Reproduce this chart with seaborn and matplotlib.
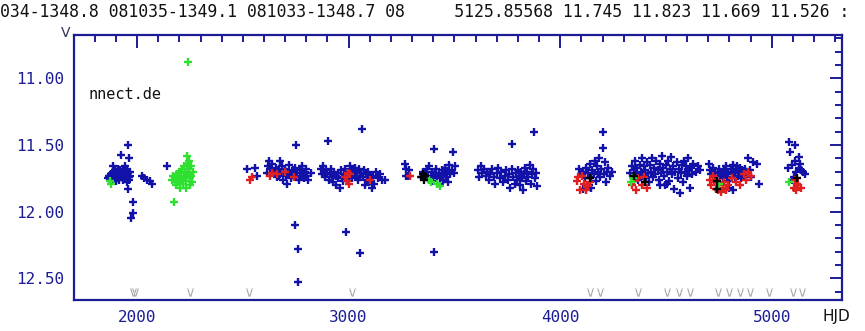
import matplotlib
matplotlib.use("Agg")
import matplotlib.pyplot as plt
import seaborn as sns
import pandas as pd
from matplotlib.ticker import MultipleLocator, FixedFormatter, FixedLocator

# ---------------- data ----------------
blue_hjd = [1862, 1868, 1872, 1878, 1880, 1884, 1886, 1889, 1892, 1895, 1897, 1900, 1902, 1905, 1907,
            1910, 1912, 1914, 1917, 1919, 1921, 1924, 1925, 1928, 1930, 1932, 1934, 1936, 1938, 1940,
            1942, 1944, 1946, 1948, 1950, 1952, 1954, 1957, 1957, 1958, 1960, 1962, 1963, 1965, 1968,
            1972, 1981, 1981, 2025, 2035, 2048, 2060, 2072, 2141,
            2520, 2558, 2568, 2615, 2620, 2625, 2630, 2640, 2645, 2650, 2655, 2660, 2665, 2670, 2675,
            2680, 2685, 2690, 2695, 2700, 2705, 2710, 2715, 2720, 2725, 2730, 2735, 2740, 2745, 2750,
            2752, 2747, 2762, 2762, 2758, 2765, 2770, 2775, 2780, 2785, 2790, 2795, 2800, 2805, 2810, 2820,
            2868, 2872, 2878, 2885, 2890, 2895, 2900, 2903, 2908, 2912, 2918, 2922, 2928, 2932, 2938,
            2942, 2948, 2952, 2958, 2962, 2968, 2972, 2978, 2982, 2988, 2990, 2995, 3000, 3005, 3010,
            3015, 3020, 3025, 3030, 3035, 3040, 3045, 3050, 3055, 3055, 3060, 3064, 3068, 3072, 3078,
            3082, 3088, 3092, 3098, 3105, 3110, 3115, 3120, 3130, 3140, 3150, 3160, 3172,
            3265, 3270, 3285, 3270, 3280,
            3340, 3350, 3360, 3370, 3375, 3380, 3390, 3395, 3400, 3405, 3405, 3410, 3415, 3420, 3425,
            3430, 3435, 3440, 3445, 3450, 3455, 3460, 3465, 3470, 3475, 3480, 3490, 3495, 3500, 3505,
            3610, 3618, 3625, 3632, 3640, 3648, 3655, 3662, 3670, 3678, 3685, 3692, 3700, 3708, 3715,
            3722, 3730, 3738, 3745, 3752, 3760, 3765, 3770, 3774, 3778, 3785, 3790, 3795, 3800, 3805,
            3810, 3815, 3820, 3825, 3830, 3835, 3840, 3845, 3850, 3855, 3860, 3865, 3870, 3878, 3880,
            3885, 3892,
            4090, 4100, 4110, 4115, 4120, 4130, 4135, 4140, 4145, 4150, 4160, 4165, 4170, 4175, 4180,
            4185, 4190, 4195, 4200, 4200, 4205, 4210, 4215, 4220, 4225, 4235, 4245, 4145, 4110,
            4330, 4338, 4345, 4350, 4355, 4360, 4365, 4370, 4375, 4380, 4385, 4390, 4395, 4400, 4405,
            4410, 4415, 4420, 4425, 4430, 4435, 4440, 4445, 4450, 4455, 4460, 4465, 4470, 4475, 4480,
            4485, 4490, 4495, 4500, 4505, 4510, 4515, 4520, 4525, 4530, 4535, 4540, 4545, 4550, 4555,
            4560, 4565, 4570, 4575, 4580, 4585, 4590, 4595, 4600, 4605, 4610, 4615, 4620, 4625, 4630,
            4640, 4650, 4660, 4505, 4470,
            4702, 4708, 4715, 4720, 4725, 4730, 4738, 4745, 4750, 4755, 4760, 4768, 4775, 4780, 4785,
            4790, 4795, 4800, 4805, 4810, 4815, 4820, 4825, 4830, 4835, 4840, 4845, 4850, 4855, 4860,
            4865, 4870, 4875, 4880, 4885, 4890, 4895, 4900, 4910, 4930, 4940, 4800, 4815,
            5083, 5108, 5088, 5112, 5128, 5135, 5075, 5095, 5130, 5140, 5115, 5150, 5155, 5105, 5098]
blue_mag = [11.75, 11.73, 11.76, 11.72, 11.77, 11.70, 11.66, 11.74, 11.71, 11.75, 11.69, 11.73, 11.77, 11.70, 11.72,
            11.74, 11.68, 11.76, 11.71, 11.73, 11.69, 11.575, 11.74, 11.70, 11.72, 11.76, 11.68, 11.71, 11.74, 11.69,
            11.73, 11.66, 11.75, 11.70, 11.72, 11.78, 11.68, 11.50, 11.83, 11.71, 11.74, 11.60, 11.76, 11.70, 11.73,
            12.05, 11.93, 12.01, 11.73, 11.75, 11.76, 11.77, 11.79, 11.66,
            11.68, 11.67, 11.73, 11.71, 11.66, 11.62, 11.68, 11.64, 11.70, 11.72, 11.67, 11.74, 11.69, 11.73, 11.62,
            11.70, 11.66, 11.76, 11.71, 11.68, 11.73, 11.79, 11.70, 11.65, 11.72, 11.75, 11.69, 11.73, 11.67, 11.74,
            11.50, 12.10, 12.28, 12.53, 11.71, 11.76, 11.69, 11.73, 11.66, 11.72, 11.75, 11.70, 11.68, 11.73, 11.76, 11.71,
            11.68, 11.72, 11.66, 11.70, 11.74, 11.69, 11.72, 11.47, 11.76, 11.71, 11.68, 11.74, 11.78, 11.70, 11.73,
            11.80, 11.75, 11.71, 11.82, 11.69, 11.74, 11.77, 11.72, 11.68, 12.15, 11.75, 11.70, 11.73, 11.66, 11.71,
            11.75, 11.69, 11.72, 11.67, 11.74, 11.70, 11.76, 11.68, 12.31, 11.73, 11.71, 11.38, 11.74, 11.69, 11.80,
            11.72, 11.76, 11.70, 11.78, 11.74, 11.82, 11.73, 11.79, 11.70, 11.75, 11.72, 11.76, 11.76,
            11.64, 11.68, 11.69, 11.73, 11.73,
            11.74, 11.70, 11.72, 11.68, 11.75, 11.66, 11.73, 11.70, 11.77, 11.53, 12.30, 11.72, 11.68, 11.75, 11.71,
            11.79, 11.73, 11.69, 11.76, 11.72, 11.67, 11.74, 11.70, 11.78, 11.65, 11.72, 11.69, 11.55, 11.71, 11.66,
            11.69, 11.74, 11.66, 11.71, 11.68, 11.73, 11.70, 11.76, 11.72, 11.68, 11.74, 11.79, 11.71, 11.67, 11.75,
            11.70, 11.78, 11.73, 11.69, 11.76, 11.72, 11.82, 11.68, 11.49, 11.74, 11.79, 11.71, 11.76, 11.69, 11.73,
            11.80, 11.70, 11.75, 11.84, 11.72, 11.67, 11.77, 11.70, 11.74, 11.65, 11.79, 11.72, 11.68, 11.40, 11.75,
            11.71, 11.81,
            11.68, 11.72, 11.70, 11.75, 11.67, 11.71, 11.80, 11.64, 11.74, 11.69, 11.72, 11.62, 11.77, 11.66, 11.70,
            11.60, 11.74, 11.68, 11.40, 11.52, 11.72, 11.63, 11.78, 11.70, 11.67, 11.73, 11.70, 11.82, 11.83,
            11.71, 11.66, 11.74, 11.69, 11.62, 11.72, 11.67, 11.76, 11.65, 11.70, 11.60, 11.73, 11.66, 11.69, 11.75,
            11.63, 11.71, 11.78, 11.65, 11.70, 11.60, 11.74, 11.67, 11.72, 11.62, 11.69, 11.76, 11.64, 11.71, 11.58,
            11.67, 11.73, 11.80, 11.65, 11.70, 11.62, 11.77, 11.68, 11.59, 11.72, 11.66, 11.83, 11.70, 11.63, 11.75,
            11.68, 11.86, 11.71, 11.65, 11.78, 11.62, 11.70, 11.66, 11.73, 11.60, 11.69, 11.82, 11.67, 11.72, 11.64,
            11.70, 11.66, 11.69, 11.79, 11.80,
            11.64, 11.69, 11.72, 11.67, 11.74, 11.70, 11.76, 11.71, 11.68, 11.73, 11.70, 11.75, 11.69, 11.72, 11.66,
            11.74, 11.70, 11.77, 11.68, 11.72, 11.65, 11.71, 11.74, 11.69, 11.66, 11.73, 11.70, 11.67, 11.75, 11.69,
            11.72, 11.70, 11.68, 11.73, 11.71, 11.60, 11.69, 11.74, 11.63, 11.64, 11.79, 11.82, 11.84,
            11.48, 11.50, 11.55, 11.62, 11.59, 11.64, 11.67, 11.65, 11.67, 11.69, 11.70, 11.70, 11.72, 11.74, 11.76]

green_hjd = [1870, 1877,
             2165, 2170, 2175, 2178, 2182, 2186, 2190, 2193, 2196, 2199, 2202, 2205, 2208, 2211, 2214,
             2217, 2220, 2223, 2226, 2229, 2232, 2235, 2237, 2240, 2243, 2245, 2248, 2251, 2254, 2257,
             2260, 2263, 2247, 2230,
             3380, 3390, 3420, 3430, 4335, 4345, 4750, 5080]
green_mag = [11.77, 11.79,
             11.76, 11.73, 11.93, 11.78, 11.74, 11.80, 11.72, 11.76, 11.70, 11.78, 11.74, 11.82, 11.71, 11.76, 11.68,
             11.79, 11.73, 11.66, 11.75, 11.70, 11.77, 11.64, 11.58, 11.72, 10.88, 11.68, 11.75, 11.80, 11.66, 11.73,
             11.78, 11.70, 11.62, 11.82,
             11.76, 11.78, 11.79, 11.81, 11.78, 11.75, 11.79, 11.78]

red_hjd = [2535, 2544, 2630, 2640, 2660, 2700, 2740,
           2985, 2992, 3000, 3005, 2998, 3100, 3290,
           4080, 4085, 4095, 4105, 4112, 4120, 4130, 4140,
           4340, 4350, 4360, 4370, 4385, 4395, 4410,
           4710, 4712, 4720, 4728, 4735, 4740, 4745, 4752, 4760, 4768, 4775, 4785, 4795, 4810, 4830,
           4850, 4870, 4880, 4890, 4900,
           5110, 5118, 5125, 5105, 5115, 5140]
red_mag = [11.76, 11.74, 11.73, 11.71, 11.72, 11.70, 11.74,
           11.74, 11.77, 11.79, 11.72, 11.71, 11.76, 11.73,
           11.77, 11.74, 11.84, 11.73, 11.79, 11.84, 11.81, 11.78,
           11.80, 11.77, 11.84, 11.75, 11.80, 11.74, 11.82,
           11.76, 11.80, 11.73, 11.78, 11.83, 11.76, 11.84, 11.80, 11.85, 11.82, 11.78, 11.84, 11.80, 11.75, 11.78,
           11.80, 11.72, 11.76, 11.70, 11.73,
           11.76, 11.79, 11.80, 11.82, 11.84, 11.82]

black_hjd = [3345, 3350, 3355, 3360, 4140, 4350, 4400, 4740, 4742, 5120]
black_mag = [11.74, 11.72, 11.76, 11.73, 11.75, 11.73, 11.78, 11.77, 11.83, 11.75]

limit_hjd = [1983, 1990, 2250, 2530, 3017, 4142, 4190, 4369, 4506, 4560, 4615,
             4747, 4797, 4848, 4898, 4988, 5102, 5144]
limit_mag = 12.60

header = "034-1348.8 081035-1349.1 081033-1348.7 08     5125.85568 11.745 11.823 11.669 11.526 :"
x_ticks = [2000, 3000, 4000, 5000]
y_ticks = [11.00, 11.50, 12.00, 12.50]
y_labels = ["11.00", "11.50", "12.00", "12.50"]

# ---------------- plot ----------------
sns.set_style("white")
plt.rcParams['font.family'] = ['DejaVu Sans']
navy = "#1c1c96"

fig = plt.figure(figsize=(8.65, 3.31), dpi=100)
ax = fig.add_axes([74/865, 1-300/331, (842-74)/865, (300-35)/331])

def pts(h, m):
    return pd.DataFrame({"hjd": h, "mag": m})

kw = dict(marker="+", s=36, linewidth=1.7, legend=False, ax=ax)
sns.scatterplot(data=pts(blue_hjd, blue_mag), x="hjd", y="mag", color="#1212a8", **kw)
sns.scatterplot(data=pts(red_hjd, red_mag), x="hjd", y="mag", color="#e02020", **kw)
sns.scatterplot(data=pts(green_hjd, green_mag), x="hjd", y="mag", color="#30e030", **kw)
sns.scatterplot(data=pts(black_hjd, black_mag), x="hjd", y="mag", color="#000000", **kw)
sns.scatterplot(data=pts(limit_hjd, [limit_mag]*len(limit_hjd)), x="hjd", y="mag",
                color="#9a9a9a", marker="$\\vee$", s=40, linewidth=0.3, legend=False, ax=ax)

ax.set_xlim(1702, 5332)
ax.set_ylim(12.663, 10.675)
ax.set_xlabel("")
ax.set_ylabel("")

ax.xaxis.set_major_locator(FixedLocator(x_ticks))
ax.xaxis.set_minor_locator(MultipleLocator(100))
ax.yaxis.set_major_locator(FixedLocator(y_ticks))
ax.yaxis.set_major_formatter(FixedFormatter(y_labels))
ax.yaxis.set_minor_locator(MultipleLocator(0.1))

for s in ax.spines.values():
    s.set_color(navy)
    s.set_linewidth(1.6)
ax.tick_params(which="both", direction="in", top=True, right=True, color=navy, width=1.4,
               labelcolor=navy, labelsize=11.5)
ax.tick_params(which="major", length=9, pad=7)
ax.tick_params(which="minor", length=5)
for lab in ax.get_xticklabels() + ax.get_yticklabels():
    lab.set_family("DejaVu Sans Mono")

fig.text(0.0, 1-12/331, header, family="DejaVu Sans Mono", fontsize=11.9, color="#111111",
         va="center", ha="left")
fig.text(66/865, 1-33/331, "V", fontsize=10, color="#333355", ha="center", va="center")
fig.text(836/865, 1-316/331, "HJD", fontsize=11, color="#111111", ha="center", va="center")
fig.text(89/865, 1-95/331, "nnect.de", fontsize=11, color="#111111", ha="left", va="center",
         family="DejaVu Sans Mono")

fig.savefig("out.png", dpi=100, facecolor="white")
